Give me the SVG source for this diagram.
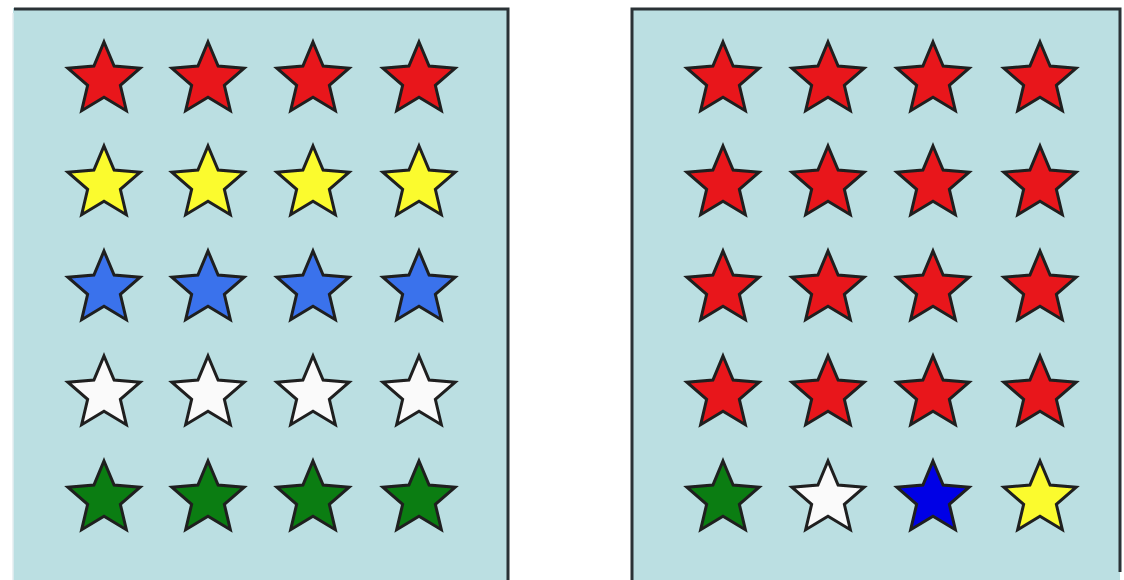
<svg xmlns="http://www.w3.org/2000/svg" xmlns:xlink="http://www.w3.org/1999/xlink" width="1124" height="580" viewBox="0 0 1124 580">
<style>
.panel{fill:#bbdfe2}
.edge{stroke:#2a3236;stroke-width:3;fill:none}
.s{stroke:#1f1f1f;stroke-width:3;stroke-linejoin:miter}
.r{fill:#e8161b}.y{fill:#fbfb2e}.b{fill:#3a72ec}.w{fill:#fafafa}.g{fill:#0b7d12}.bb{fill:#0000e6}
</style>
<defs>
<path id="star" d="M0,-38 L10.1,-13.9 L36.14,-11.74 L16.36,5.32 L22.34,30.74 L0,17.2 L-22.34,30.74 L-16.36,5.32 L-36.14,-11.74 L-10.1,-13.9 Z"/>
</defs>
<rect width="1124" height="580" fill="#ffffff"/>
<g id="left-panel">
<rect class="panel" x="13" y="8" width="495" height="572"/>
<line x1="13" y1="13" x2="13" y2="580" stroke="#e4eef0" stroke-width="1.5"/>
<polyline class="edge" points="14,9 508,9 508,580"/>
</g>
<g id="right-panel">
<rect class="panel" x="632" y="8" width="488" height="572"/>
<polyline class="edge" points="632,580 632,9 1120,9 1120,572"/>
</g>
<g id="left-stars">
<g id="L1-1"><use href="#star" x="104" y="80" class="s r"/></g>
<g id="L1-2"><use href="#star" x="208" y="80" class="s r"/></g>
<g id="L1-3"><use href="#star" x="313" y="80" class="s r"/></g>
<g id="L1-4"><use href="#star" x="419" y="80" class="s r"/></g>
<g id="L2-1"><use href="#star" x="104" y="184" class="s y"/></g>
<g id="L2-2"><use href="#star" x="208" y="184" class="s y"/></g>
<g id="L2-3"><use href="#star" x="313" y="184" class="s y"/></g>
<g id="L2-4"><use href="#star" x="419" y="184" class="s y"/></g>
<g id="L3-1"><use href="#star" x="104" y="289" class="s b"/></g>
<g id="L3-2"><use href="#star" x="208" y="289" class="s b"/></g>
<g id="L3-3"><use href="#star" x="313" y="289" class="s b"/></g>
<g id="L3-4"><use href="#star" x="419" y="289" class="s b"/></g>
<g id="L4-1"><use href="#star" x="104" y="394" class="s w"/></g>
<g id="L4-2"><use href="#star" x="208" y="394" class="s w"/></g>
<g id="L4-3"><use href="#star" x="313" y="394" class="s w"/></g>
<g id="L4-4"><use href="#star" x="419" y="394" class="s w"/></g>
<g id="L5-1"><use href="#star" x="104" y="499" class="s g"/></g>
<g id="L5-2"><use href="#star" x="208" y="499" class="s g"/></g>
<g id="L5-3"><use href="#star" x="313" y="499" class="s g"/></g>
<g id="L5-4"><use href="#star" x="419" y="499" class="s g"/></g>
</g>
<g id="right-stars">
<g id="R1-1"><use href="#star" x="723" y="80" class="s r"/></g>
<g id="R1-2"><use href="#star" x="828" y="80" class="s r"/></g>
<g id="R1-3"><use href="#star" x="933" y="80" class="s r"/></g>
<g id="R1-4"><use href="#star" x="1040" y="80" class="s r"/></g>
<g id="R2-1"><use href="#star" x="723" y="184" class="s r"/></g>
<g id="R2-2"><use href="#star" x="828" y="184" class="s r"/></g>
<g id="R2-3"><use href="#star" x="933" y="184" class="s r"/></g>
<g id="R2-4"><use href="#star" x="1040" y="184" class="s r"/></g>
<g id="R3-1"><use href="#star" x="723" y="289" class="s r"/></g>
<g id="R3-2"><use href="#star" x="828" y="289" class="s r"/></g>
<g id="R3-3"><use href="#star" x="933" y="289" class="s r"/></g>
<g id="R3-4"><use href="#star" x="1040" y="289" class="s r"/></g>
<g id="R4-1"><use href="#star" x="723" y="394" class="s r"/></g>
<g id="R4-2"><use href="#star" x="828" y="394" class="s r"/></g>
<g id="R4-3"><use href="#star" x="933" y="394" class="s r"/></g>
<g id="R4-4"><use href="#star" x="1040" y="394" class="s r"/></g>
<g id="R5-1"><use href="#star" x="723" y="499" class="s g"/></g>
<g id="R5-2"><use href="#star" x="828" y="499" class="s w"/></g>
<g id="R5-3"><use href="#star" x="933" y="499" class="s bb"/></g>
<g id="R5-4"><use href="#star" x="1040" y="499" class="s y"/></g>
</g>
<g id="connectors"></g>
</svg>
